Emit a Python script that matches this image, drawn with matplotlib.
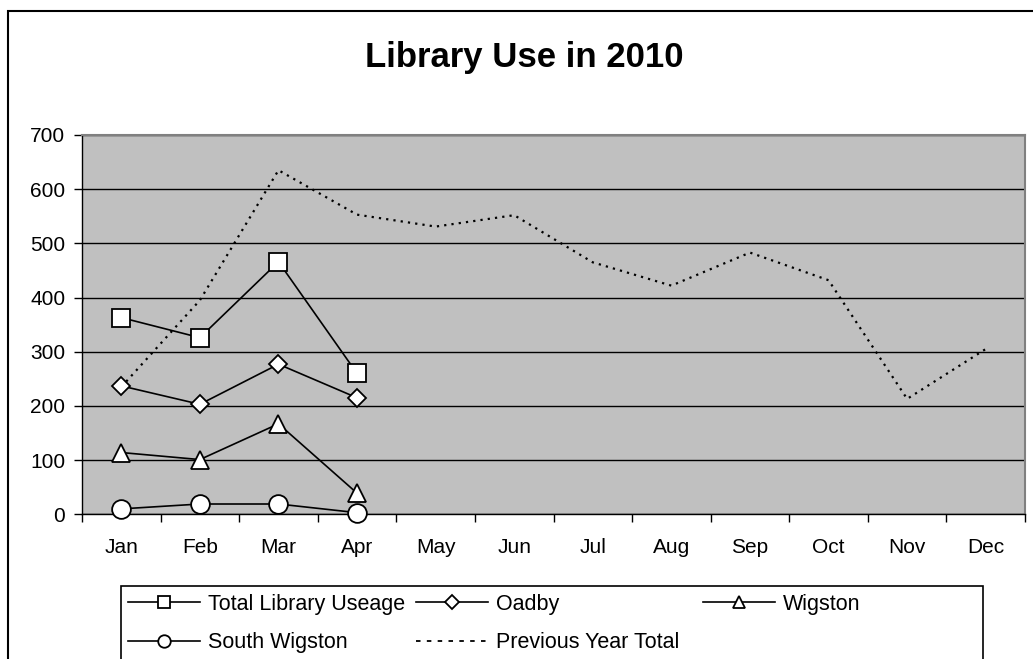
import matplotlib
matplotlib.use('Agg')
from matplotlib import pyplot as plt
from matplotlib.patches import Rectangle

months = ['Jan', 'Feb', 'Mar', 'Apr', 'May', 'Jun', 'Jul', 'Aug', 'Sep', 'Oct', 'Nov', 'Dec']
total_use = [363, 326, 466, 260]
oadby = [237, 203, 277, 215]
wigston = [114, 101, 167, 39]
south_wigston = [10, 19, 19, 3]
previous_year = [235, 395, 635, 553, 531, 552, 465, 422, 483, 432, 213, 305]
y_ticks = [0, 100, 200, 300, 400, 500, 600, 700]

plt.rcParams['font.family'] = ['Liberation Sans', 'DejaVu Sans']

W, H = 1033, 659
fig = plt.figure(figsize=(W / 100, H / 100), dpi=100)


def fx(px):
    return px / W


def fy(py):
    return 1 - py / H


ax = fig.add_axes([fx(82), fy(514.3), fx(1025) - fx(82), fy(135) - fy(514.3)])
ax.set_facecolor('#c0c0c0')

x_all = list(range(len(months)))
line_kw = dict(color='black', lw=1.2, mec='black', mfc='white', mew=1.3, zorder=4, clip_on=False)
h_total, = ax.plot(x_all[:len(total_use)], total_use, marker='s', ms=13, label='Total Library Useage', **line_kw)
h_oadby, = ax.plot(x_all[:len(oadby)], oadby, marker='D', ms=9, label='Oadby', **line_kw)
h_wig, = ax.plot(x_all[:len(wigston)], wigston, marker='^', ms=12.5, label='Wigston', **line_kw)
h_south, = ax.plot(x_all[:len(south_wigston)], south_wigston, marker='o', ms=13.5, label='South Wigston', **line_kw)
h_prev, = ax.plot(x_all, previous_year, color='black', lw=1.6, linestyle=(0, (1, 2.3)),
                  label='Previous Year Total', zorder=3)

ax.set_xlim(-0.5, len(months) - 0.5)
ax.set_ylim(0, 700)
ax.set_yticks(y_ticks)
ax.yaxis.grid(True, color='black', lw=1)
ax.set_axisbelow(True)

ax.set_xticks(x_all)
ax.set_xticklabels(months)
ax.set_xticks([i - 0.5 for i in range(len(months) + 1)], minor=True)
ax.tick_params(axis='x', which='major', length=0, pad=17, labelsize=15)
ax.tick_params(axis='x', which='minor', length=6, width=1, color='black', direction='out')
ax.tick_params(axis='y', length=6, width=1, pad=6, labelsize=15)

for side in ['top', 'right']:
    ax.spines[side].set_color('#808080')
    ax.spines[side].set_linewidth(1.5)
for side in ['left', 'bottom']:
    ax.spines[side].set_color('black')
    ax.spines[side].set_linewidth(1)

fig.text(fx(524), fy(67), 'Library Use in 2010', ha='center', va='baseline',
         fontsize=25, fontweight='bold')

# outer chart border (runs off the right and bottom edge)
fig.patches.append(Rectangle((fx(8), -0.1), 1.2, fy(11) + 0.1, transform=fig.transFigure,
                             fill=False, edgecolor='black', lw=1.5))
# legend box
fig.patches.append(Rectangle((fx(121), -0.1), fx(983) - fx(121), fy(586) + 0.1,
                             transform=fig.transFigure, fill=False, edgecolor='black', lw=1.2))

legend_ms = {'Total Library Useage': 8.5, 'Oadby': 7, 'Wigston': 9, 'South Wigston': 9}
columns = [[h_total, h_south], [h_oadby, h_prev], [h_wig]]
col_x = [128, 416, 703]
for handles, cx in zip(columns, col_x):
    leg = fig.legend(handles=handles, loc='upper left', bbox_to_anchor=(fx(cx), fy(594)),
                     frameon=False, fontsize=15.5, borderpad=0, borderaxespad=0,
                     handlelength=3.35, handletextpad=0.35, labelspacing=0.8,
                     numpoints=1)
    for line, txt in zip(leg.get_lines(), leg.get_texts()):
        name = txt.get_text()
        if name in legend_ms:
            line.set_markersize(legend_ms[name])
        else:
            line.set_linestyle((0, (2.5, 3.5)))
            line.set_linewidth(1.3)

fig.savefig('out.png', dpi=100)
